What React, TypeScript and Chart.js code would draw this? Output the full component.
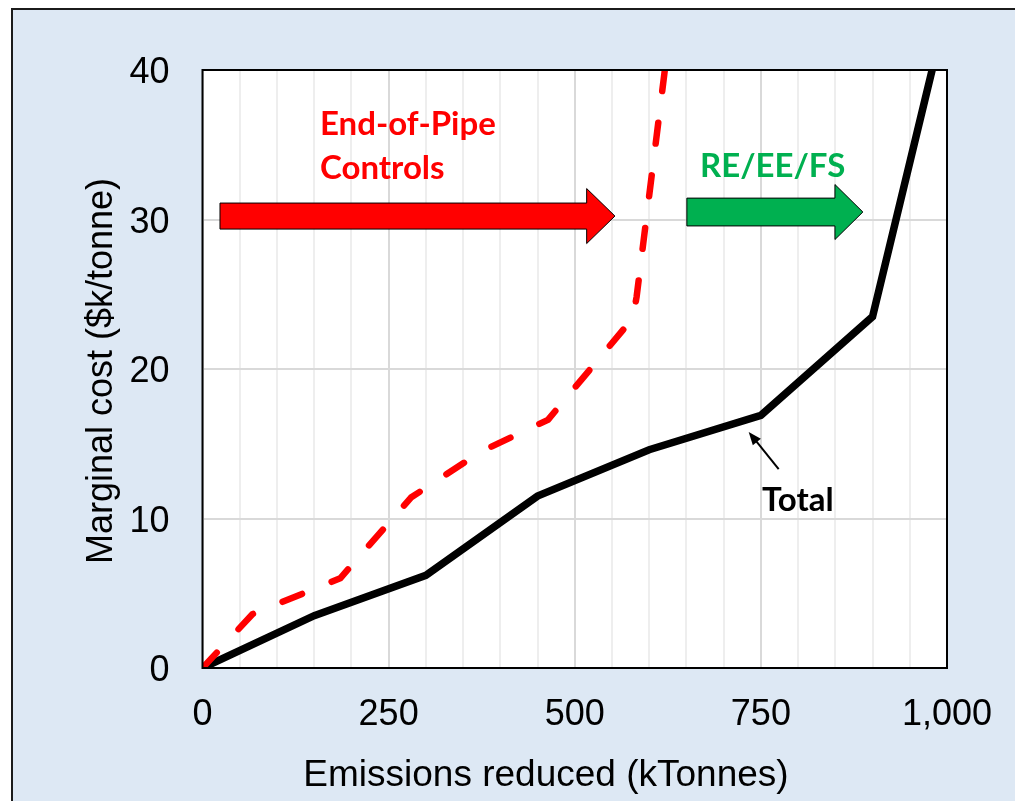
import { useEffect, useRef } from 'react';
import { Chart, registerables } from 'chart.js';

Chart.register(...registerables);

// ---- data ----
const totalX = [0, 150, 300, 450, 600, 750, 900, 980];
const totalY = [0, 3.5, 6.2, 11.5, 14.6, 16.9, 23.5, 40];
const eopX = [0, 67, 185, 280, 375, 464, 578, 583, 621];
const eopY = [0, 3.6, 6.0, 11.4, 14.5, 16.6, 23.4, 24.8, 40];
const xTickValues = [0, 250, 500, 750, 1000];
const xTickLabels = ['0', '250', '500', '750', '1,000'];
const yTickValues = [0, 10, 20, 30, 40];
const yTickLabels = ['0', '10', '20', '30', '40'];

const xTitle = 'Emissions reduced (kTonnes)';
const yTitle = 'Marginal cost ($k/tonne)';

// annotations in data units: [xStart, xHeadStart, xTip, yMid, bodyHalf, headHalf]
const redArrow = [23.5, 516, 554, 30.23, 0.87, 1.84];
const greenArrow = [650.6, 849.5, 887, 30.5, 0.93, 1.84];
const labelTexts = ['End-of-Pipe', 'Controls', 'RE/EE/FS', 'Total'];
const labelX = [157.8, 157.8, 668.2, 751.5];
const labelY = [35.65, 32.71, 32.84, 10.5];
const labelColors = ['#ff0000', '#ff0000', '#00b050', '#000000'];
const pointerFrom = [773.9, 13.31];
const pointerTo = [733.6, 15.79];

const W = 1015;
const H = 801;
const ARIAL = '"Liberation Sans", Arial, sans-serif';

const deco = {
  id: 'deco',
  beforeDraw(chart: any) {
    const { ctx, chartArea: a } = chart;
    ctx.save();
    ctx.fillStyle = '#ffffff';
    ctx.fillRect(a.left, a.top, a.right - a.left, a.bottom - a.top);
    ctx.restore();
  },
  afterDatasetsDraw(chart: any) {
    const { ctx, chartArea: a } = chart;
    const xs = chart.scales.x;
    const ys = chart.scales.y;
    const px = (v: number) => xs.getPixelForValue(v);
    const py = (v: number) => ys.getPixelForValue(v);

    const drawArrow = (spec: number[], fill: string) => {
      const [x0, xh, xt, ym, bh, hh] = spec;
      ctx.beginPath();
      ctx.moveTo(px(x0), py(ym + bh));
      ctx.lineTo(px(xh), py(ym + bh));
      ctx.lineTo(px(xh), py(ym + hh));
      ctx.lineTo(px(xt), py(ym));
      ctx.lineTo(px(xh), py(ym - hh));
      ctx.lineTo(px(xh), py(ym - bh));
      ctx.lineTo(px(x0), py(ym - bh));
      ctx.closePath();
      ctx.fillStyle = fill;
      ctx.fill();
      ctx.lineWidth = 1;
      ctx.strokeStyle = '#000';
      ctx.stroke();
    };
    ctx.save();
    drawArrow(redArrow, '#ff0000');
    drawArrow(greenArrow, '#00b050');

    // pointer arrow for Total
    const fx = px(pointerFrom[0]);
    const fy = py(pointerFrom[1]);
    const tx = px(pointerTo[0]);
    const ty = py(pointerTo[1]);
    const ang = Math.atan2(ty - fy, tx - fx);
    const hl = 14;
    ctx.strokeStyle = '#000';
    ctx.lineWidth = 2;
    ctx.beginPath();
    ctx.moveTo(fx, fy);
    ctx.lineTo(tx - Math.cos(ang) * hl * 0.6, ty - Math.sin(ang) * hl * 0.6);
    ctx.stroke();
    ctx.beginPath();
    ctx.moveTo(tx, ty);
    ctx.lineTo(tx - hl * Math.cos(ang - 0.38), ty - hl * Math.sin(ang - 0.38));
    ctx.lineTo(tx - hl * Math.cos(ang + 0.38), ty - hl * Math.sin(ang + 0.38));
    ctx.closePath();
    ctx.fillStyle = '#000';
    ctx.fill();

    // annotation labels
    ctx.font = 'bold 33px Lato';
    ctx.textAlign = 'left';
    ctx.textBaseline = 'alphabetic';
    labelTexts.forEach((t, i) => {
      ctx.fillStyle = labelColors[i];
      ctx.fillText(t, px(labelX[i]), py(labelY[i]));
    });

    // plot border
    ctx.strokeStyle = '#000';
    ctx.lineWidth = 2;
    ctx.strokeRect(a.left, a.top, a.right - a.left, a.bottom - a.top);

    // tick labels, placed by the scales
    ctx.fillStyle = '#000';
    ctx.font = '36px ' + ARIAL;
    ctx.textBaseline = 'alphabetic';
    ctx.textAlign = 'center';
    xTickValues.forEach((v, i) => {
      ctx.fillText(xTickLabels[i], px(v), a.bottom + 57);
    });
    ctx.textAlign = 'right';
    yTickValues.forEach((v, i) => {
      ctx.fillText(yTickLabels[i], a.left - 33, py(v) + 13);
    });

    // axis titles
    ctx.font = '37px ' + ARIAL;
    ctx.textAlign = 'center';
    ctx.fillText(xTitle, 546, 786);
    ctx.save();
    ctx.translate(112, (a.top + a.bottom) / 2 + 2);
    ctx.rotate(-Math.PI / 2);
    ctx.font = '36px ' + ARIAL;
    ctx.fillText(yTitle, 0, 0);
    ctx.restore();
    ctx.restore();
  },
};

export default function App() {
  const ref = useRef<HTMLCanvasElement>(null);
  useEffect(() => {
    const canvas = ref.current!;
    const chart = new Chart(canvas, {
      type: 'line',
      data: {
        datasets: [
          {
            label: 'End-of-Pipe Controls',
            data: eopX.map((x, i) => ({ x, y: eopY[i] })),
            borderColor: '#ff0000',
            borderWidth: 6.5,
            borderDash: [21, 32],
            borderCapStyle: 'round',
            borderJoinStyle: 'round',
            pointRadius: 0,
            tension: 0,
            fill: false,
          },
          {
            label: 'Total',
            data: totalX.map((x, i) => ({ x, y: totalY[i] })),
            borderColor: '#000000',
            borderWidth: 7.5,
            pointRadius: 0,
            tension: 0,
            fill: false,
          },
        ],
      },
      options: {
        responsive: false,
        animation: false,
        devicePixelRatio: 1,
        layout: { padding: { top: 70, right: W - 947, bottom: 0, left: 0 } },
        plugins: { legend: { display: false }, tooltip: { enabled: false } },
        scales: {
          x: {
            type: 'linear',
            min: 0,
            max: 1000,
            afterFit(s: any) {
              s.height = H - 668;
              s.paddingLeft = 0;
              s.paddingRight = 0;
            },
            border: { display: false },
            grid: {
              drawTicks: false,
              color: (c: any) => (c.tick && c.tick.value % 250 === 0 ? '#d9d9d9' : '#eeeeee'),
              lineWidth: 2,
            },
            ticks: { stepSize: 50, autoSkip: false, maxRotation: 0, minRotation: 0, display: false },
          },
          y: {
            min: 0,
            max: 40,
            afterFit(s: any) {
              s.width = 202.5;
              s.paddingTop = 0;
              s.paddingBottom = 0;
            },
            border: { display: false },
            grid: { drawTicks: false, color: '#d9d9d9', lineWidth: 2 },
            ticks: { stepSize: 10, display: false },
          },
        },
      },
      plugins: [deco],
    } as any);
    return () => chart.destroy();
  }, []);

  return (
    <div style={{ position: 'fixed', left: 0, top: 0, width: W, height: H, overflow: 'hidden', background: '#ffffff' }}>
      <div
        style={{
          position: 'absolute',
          left: 11,
          top: 8,
          width: W,
          height: H,
          background: '#dde8f4',
          border: '2px solid #1b1b1b',
          boxSizing: 'border-box',
        }}
      />
      <canvas
        ref={ref}
        width={W}
        height={H}
        style={{ position: 'absolute', left: 0, top: 0, width: W, height: H }}
      />
    </div>
  );
}
